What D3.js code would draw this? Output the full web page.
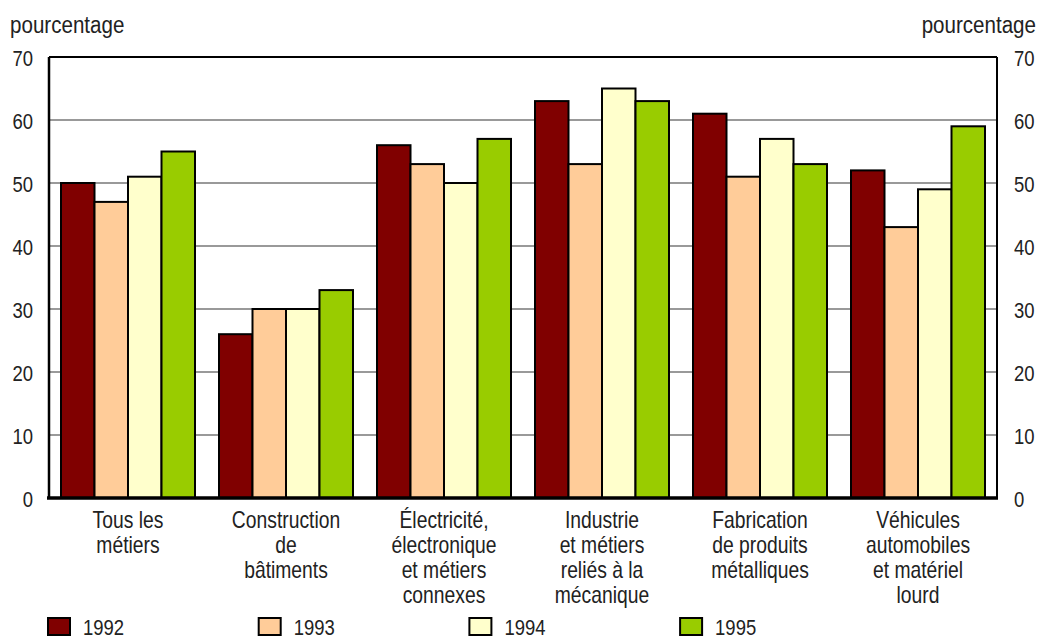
<!DOCTYPE html>
<html><head><meta charset="utf-8">
<script src="https://cdn.jsdelivr.net/npm/d3@7"></script>
<style>
body{margin:0;background:#fff;}
text{font-family:"Liberation Sans",Arial,sans-serif;fill:#222;}
</style></head>
<body><svg id="c" width="1039" height="639"></svg>
<script>
const categories=[["Tous les","métiers"],["Construction","de","bâtiments"],["Électricité,","électronique","et métiers","connexes"],["Industrie","et métiers","reliés à la","mécanique"],["Fabrication","de produits","métalliques"],["Véhicules","automobiles","et matériel","lourd"]];
const years=["1992","1993","1994","1995"];
const colors=["#800000","#FFCC99","#FFFFCC","#99CC00"];
const v1992=[50,26,56,63,61,52];
const v1993=[47,30,53,53,51,43];
const v1994=[51,30,50,65,57,49];
const v1995=[55,33,57,63,53,59];
const yTicks=[0,10,20,30,40,50,60,70];
const series=[v1992,v1993,v1994,v1995];

const svg=d3.select("#c");
const SX=0.84;
function txt(x,y,s,size,anchor){
  return svg.append("g").attr("transform",`translate(${x},${y}) scale(${SX},1)`)
    .append("text").attr("x",0).attr("y",0).attr("font-size",size).attr("text-anchor",anchor||"start").text(s);
}
const L=49,R=997,T=57,B=498;
const x0=d3.scaleBand().domain(d3.range(categories.length)).range([L,R]);
const x1=d3.scaleBand().domain(d3.range(years.length)).range([12,x0.bandwidth()-12]);
const y=d3.scaleLinear().domain([0,70]).range([B,T]);

svg.append("g").selectAll("line").data(yTicks.filter(d=>d>0&&d<70)).join("line")
 .attr("x1",L).attr("x2",R).attr("y1",d=>y(d)).attr("y2",d=>y(d))
 .attr("stroke","#999").attr("stroke-width",2);

const g=svg.append("g");
categories.forEach((c,i)=>{
  series.forEach((s,j)=>{
    g.append("rect").attr("x",x0(i)+x1(j)).attr("y",y(s[i]))
     .attr("width",x1.bandwidth()).attr("height",B-y(s[i]))
     .attr("fill",colors[j]).attr("stroke","#000").attr("stroke-width",2);
  });
});

svg.append("line").attr("x1",L).attr("x2",R).attr("y1",T).attr("y2",T).attr("stroke","#000").attr("stroke-width",2);
svg.append("line").attr("x1",L).attr("x2",L).attr("y1",T).attr("y2",B).attr("stroke","#000").attr("stroke-width",2.5);
svg.append("line").attr("x1",R).attr("x2",R).attr("y1",T).attr("y2",B).attr("stroke","#000").attr("stroke-width",2);
svg.append("line").attr("x1",L-2).attr("x2",R+1).attr("y1",B).attr("y2",B).attr("stroke","#000").attr("stroke-width",3.5);

yTicks.forEach(d=>{
  txt(33,y(d)+9,d,22,"end");
  txt(1014,y(d)+9,d,22,"start");
});
txt(10,33,"pourcentage",24.5,"start");
txt(1036,33,"pourcentage",24.5,"end");

categories.forEach((c,i)=>{
  c.forEach((line,k)=>txt(x0(i)+x0.bandwidth()/2,528+k*25,line,23,"middle"));
});

years.forEach((yr,j)=>{
  const lx=48+j*210.7;
  svg.append("rect").attr("x",lx).attr("y",618).attr("width",22).attr("height",17)
   .attr("fill",colors[j]).attr("stroke","#000").attr("stroke-width",2);
  txt(lx+35,635,yr,22,"start");
});
</script></body></html>
